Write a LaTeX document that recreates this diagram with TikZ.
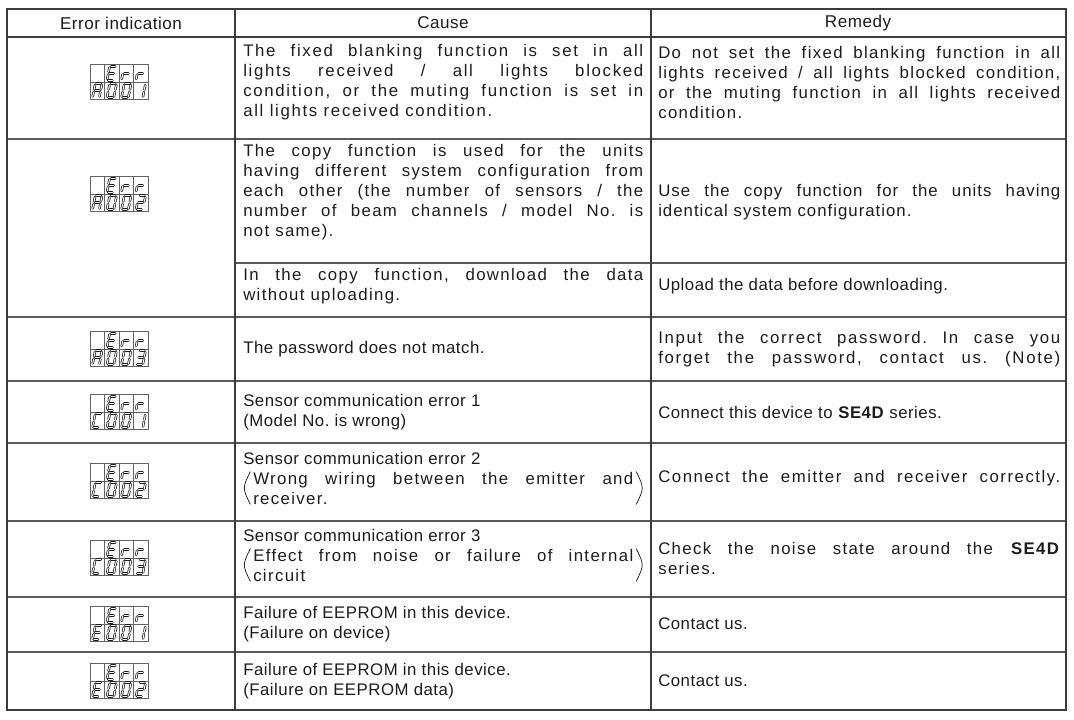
\documentclass[tikz,border=0pt]{standalone}
\usepackage{fontspec}
\setmainfont{Liberation Sans}[LetterSpace=3]
\usepackage{xcolor}
\definecolor{ink}{RGB}{30,27,28}
\definecolor{rule}{RGB}{60,60,60}
\frenchspacing

\tikzset{
	txt/.style={anchor=west, inner sep=0pt, text width=300pt, align=justify, font=\fontsize{12.6}{15}\selectfont, text=ink},
	rtxt/.style={txt, text width=301.5pt},
	spaced/.style={font=\fontsize{12.6}{15}\selectfont\addfontfeature{LetterSpace=#1}},
	hdr/.style={inner sep=0pt, font=\fontsize{12.8}{15}\selectfont, text=ink},
	outrule/.style={draw=rule, line width=1.7pt},
	colrule/.style={draw=rule, line width=1.4pt},
	rowrule/.style={draw=rule!85, line width=0.9pt},
	cellrule/.style={draw=rule!80, line width=0.45pt},
	seg/.style={draw=ink, line width=0.55pt, double=white, double distance=0.8pt, line cap=round, shorten >=1pt, shorten <=1pt},
	paren/.style={draw=ink, line width=0.55pt}
}

% segment lists of the seven segment characters
\def\sgE{a,d,e,f,g}
\def\sgR{e,g}
\def\sgA{a,b,c,e,f,g}
\def\sgO{a,b,c,d,e,f}
\def\sgI{b,c}
\def\sgII{a,b,g,e,d}
\def\sgIII{a,b,g,c,d}
\def\sgC{a,d,e,f}

% one character: centre x, centre y, segments
\newcommand{\segchar}[3]{%
	\begin{scope}[shift={(#1,#2)},yscale=-1,xslant=0.2]
		\coordinate (a1) at (-3.4,7); \coordinate (a2) at (3.4,7);
		\coordinate (b1) at (3.4,7);  \coordinate (b2) at (3.4,0);
		\coordinate (c1) at (3.4,0);  \coordinate (c2) at (3.4,-7);
		\coordinate (d1) at (-3.4,-7);\coordinate (d2) at (3.4,-7);
		\coordinate (e1) at (-3.4,0); \coordinate (e2) at (-3.4,-7);
		\coordinate (f1) at (-3.4,7); \coordinate (f2) at (-3.4,0);
		\coordinate (g1) at (-3.4,0); \coordinate (g2) at (3.4,0);
		\foreach \s in #3 {\draw[seg] (\s1) -- (\s2);}
	\end{scope}}

% display "Err" over four characters: centre x, centre y, four characters
\newcommand{\errdisp}[6]{%
	\draw[cellrule] (#1-29,#2-17.5) rectangle (#1+29,#2+17.5);
	\draw[cellrule] (#1-29,#2) -- (#1+29,#2);
	\foreach \k in {1,2,3} {\draw[cellrule] (#1-29+14.5*\k,#2-17.5) -- ++(0,35);}
	\segchar{#1-7.25}{#2-8.75}{\sgE}
	\segchar{#1+7.25}{#2-8.75}{\sgR}
	\segchar{#1+21.75}{#2-8.75}{\sgR}
	\segchar{#1-21.75}{#2+8.75}{#3}
	\segchar{#1-7.25}{#2+8.75}{#4}
	\segchar{#1+7.25}{#2+8.75}{#5}
	\segchar{#1+21.75}{#2+8.75}{#6}}

\begin{document}
\begin{tikzpicture}[x=0.75pt,y=0.75pt,yscale=-1,xscale=1]
	\useasboundingbox (0,0) rectangle (1074,720);

	%Row Lines
	\foreach \y in {139,317,381,443,521,597,652} {\draw[rowrule] (7,\y) -- (1066,\y);}
	\draw[rowrule] (235,263) -- (1066,263);
	%Column Lines
	\draw[colrule] (235,9) -- (235,710);
	\draw[colrule] (651,9) -- (651,710);
	%Header and Frame
	\draw[outrule] (7,37) -- (1066,37);
	\draw[outrule] (7,9) rectangle (1066,710);

	% Header Nodes
	\draw (121,23) node (hdind) [hdr] {Error indication};
	\draw (443,23) node (hdcause) [hdr] {Cause};
	\draw (858,23) node (hdremedy) [hdr] {Remedy};

	% Displays
	\errdisp{119}{82}{\sgA}{\sgO}{\sgO}{\sgI}
	\errdisp{119}{194}{\sgA}{\sgO}{\sgO}{\sgII}
	\errdisp{119}{349}{\sgA}{\sgO}{\sgO}{\sgIII}
	\errdisp{119}{412}{\sgC}{\sgO}{\sgO}{\sgI}
	\errdisp{119}{481}{\sgC}{\sgO}{\sgO}{\sgII}
	\errdisp{119}{558}{\sgC}{\sgO}{\sgO}{\sgIII}
	\errdisp{119}{624}{\sgE}{\sgO}{\sgO}{\sgI}
	\errdisp{119}{681}{\sgE}{\sgO}{\sgO}{\sgII}

	% Cause Nodes
	\draw (243,82) node (cause1) [txt, spaced=10] {The fixed blanking function is set in all\linebreak lights received / all lights blocked\linebreak condition, or the muting function is set in\linebreak all lights received condition.};
	\draw (243,192) node (cause2) [txt, spaced=8] {The copy function is used for the units\linebreak having different system configuration from\linebreak each other (the number of sensors / the\linebreak number of beam channels / model No. is\linebreak not same).};
	\draw (243,286) node (cause3) [txt, spaced=8] {In the copy function, download the data\linebreak without uploading.};
	\draw (243,349) node (cause4) [txt] {The password does not match.};
	\draw (243,412) node (cause5) [txt] {Sensor communication error 1\\(Model No. is wrong)};
	\draw (243,458) node (cause6) [txt] {Sensor communication error 2};
	\draw (253,488) node (cause6b) [txt, spaced=8, text width=285pt] {Wrong wiring between the emitter and\linebreak receiver.};
	\draw (243,535) node (cause7) [txt] {Sensor communication error 3};
	\draw (253,565) node (cause7b) [txt, spaced=8, text width=285pt] {Effect from noise or failure of internal\linebreak circuit};
	\draw (243,624) node (cause8) [txt] {Failure of EEPROM in this device.\\(Failure on device)};
	\draw (243,681) node (cause9) [txt] {Failure of EEPROM in this device.\\(Failure on EEPROM data)};

	% Parentheses
	\draw[paren] ([xshift=-2pt]cause6b.north west) .. controls ([xshift=-8pt]cause6b.west) .. ([xshift=-2pt]cause6b.south west);
	\draw[paren] ([xshift=2pt]cause6b.north east) .. controls ([xshift=8pt]cause6b.east) .. ([xshift=2pt]cause6b.south east);
	\draw[paren] ([xshift=-2pt]cause7b.north west) .. controls ([xshift=-8pt]cause7b.west) .. ([xshift=-2pt]cause7b.south west);
	\draw[paren] ([xshift=2pt]cause7b.north east) .. controls ([xshift=8pt]cause7b.east) .. ([xshift=2pt]cause7b.south east);

	% Remedy Nodes
	\draw (658,82) node (remedy1) [rtxt, spaced=8] {Do not set the fixed blanking function in all\linebreak lights received / all lights blocked condition,\linebreak or the muting function in all lights received\linebreak condition.};
	\draw (658,202) node (remedy2) [rtxt, spaced=6] {Use the copy function for the units having\linebreak identical system configuration.};
	\draw (658,286) node (remedy3) [rtxt] {Upload the data before downloading.};
	\draw (658,349) node (remedy4) [rtxt, spaced=10] {Input the correct password. In case you\linebreak \makebox[\hsize][s]{forget the password, contact us. (Note)}};
	\draw (658,412) node (remedy5) [rtxt] {Connect this device to \textbf{SE4D} series.};
	\draw (658,478) node (remedy6) [rtxt, spaced=9] {\makebox[\hsize][s]{Connect the emitter and receiver correctly.}};
	\draw (658,558) node (remedy7) [rtxt, spaced=8] {Check the noise state around the \textbf{SE4D}\linebreak series.};
	\draw (658,624) node (remedy8) [rtxt] {Contact us.};
	\draw (658,681) node (remedy9) [rtxt] {Contact us.};
\end{tikzpicture}
\end{document}
